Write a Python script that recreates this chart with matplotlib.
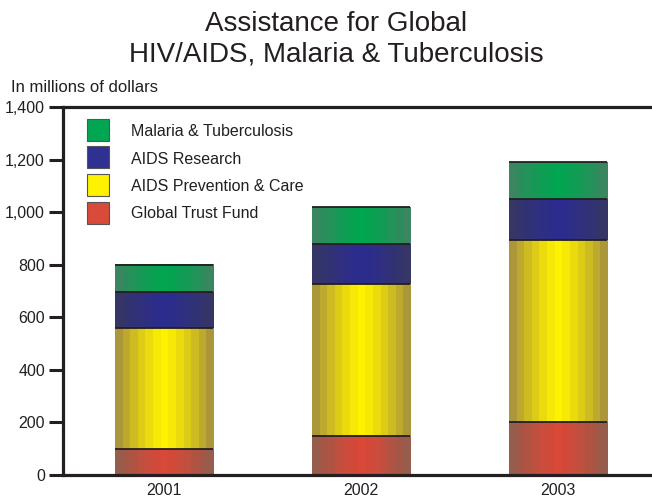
import numpy as np
import matplotlib
matplotlib.use("Agg")
import matplotlib.pyplot as plt
from matplotlib.patches import Rectangle
from matplotlib.ticker import FuncFormatter

plt.rcParams['font.family'] = ['Liberation Sans', 'DejaVu Sans']

years = ["2001", "2002", "2003"]
series_names = ["Global Trust Fund", "AIDS Prevention & Care", "AIDS Research", "Malaria & Tuberculosis"]
global_trust_fund = [100, 150, 200]
aids_prevention = [460, 575, 695]
aids_research = [135, 155, 155]
malaria_tb = [105, 140, 140]
yticks = [0, 200, 400, 600, 800, 1000, 1200, 1400]

series_values = [global_trust_fund, aids_prevention, aids_research, malaria_tb]
# (center colour, edge colour) for cylindrical shading
shades = [
    ((218, 72, 56), (150, 92, 76)),
    ((255, 242, 0), (172, 150, 58)),
    ((44, 44, 142), (54, 54, 102)),
    ((0, 166, 80), (58, 134, 96)),
]
legend_colors = ["#d84a3a", "#fff200", "#2e3192", "#00a651"]

text_color = "#231f20"
W, H = 652, 498
fig = plt.figure(figsize=(W / 100, H / 100), dpi=100)
ax = fig.add_axes([63 / W, 23 / H, 1 - 63 / W, (475 - 107) / H])

x = np.arange(len(years))
width = 0.5
nb = 13


def band_image(c, e):
    t = np.abs(np.linspace(-1, 1, nb))
    t = t ** 1.3
    c = np.array(c) / 255.0
    e = np.array(e) / 255.0
    cols = c[None, :] + (e - c)[None, :] * t[:, None]
    return cols[None, :, :]


bottoms = np.zeros(len(years))
for vals, (c, e) in zip(series_values, shades):
    img = band_image(c, e)
    for xi, b, v in zip(x, bottoms, vals):
        ax.imshow(img, extent=(xi - width / 2, xi + width / 2, b, b + v),
                  aspect='auto', interpolation='nearest', zorder=2)
        ax.plot([xi - width / 2, xi + width / 2], [b + v, b + v],
                color=text_color, lw=1.3, zorder=3, solid_capstyle='butt')
    bottoms = bottoms + np.array(vals)

ax.set_xlim(-0.513, 2.477)
ax.set_ylim(0, 1400)
ax.set_xticks(x)
ax.set_xticklabels(years)
ax.set_yticks(yticks)
ax.yaxis.set_major_formatter(FuncFormatter(lambda v, p: f"{int(v):,}"))
ax.tick_params(axis='x', length=0, pad=6, labelsize=11.5, labelcolor=text_color)
ax.tick_params(axis='y', length=10, width=2.2, direction='out', pad=3,
               labelsize=11.5, labelcolor=text_color, color=text_color)
for s in ['left', 'top', 'bottom']:
    ax.spines[s].set_linewidth(2.3)
    ax.spines[s].set_color(text_color)
ax.spines['right'].set_visible(False)

# legend (top to bottom: Malaria, Research, Prevention, Trust Fund)
row_centers = [130, 157.5, 185, 212.5]
sq = 22
for rc, i in zip(row_centers, [3, 2, 1, 0]):
    fig.patches.append(Rectangle((87 / W, 1 - (rc + sq / 2) / H), sq / W, sq / H,
                                 transform=fig.transFigure, facecolor=legend_colors[i],
                                 edgecolor='#555555', linewidth=0.8))
    fig.text(131 / W, 1 - rc / H, series_names[i], ha='left', va='center_baseline',
             fontsize=11.5, color=text_color)

fig.text(336 / W, 1 - 39 / H, "Assistance for Global\nHIV/AIDS, Malaria & Tuberculosis",
         ha='center', va='center', fontsize=20, color=text_color, linespacing=1.22)
fig.text(11 / W, 1 - 88 / H, "In millions of dollars", ha='left', va='center',
         fontsize=12, color=text_color)

fig.savefig("out.png", dpi=100)
